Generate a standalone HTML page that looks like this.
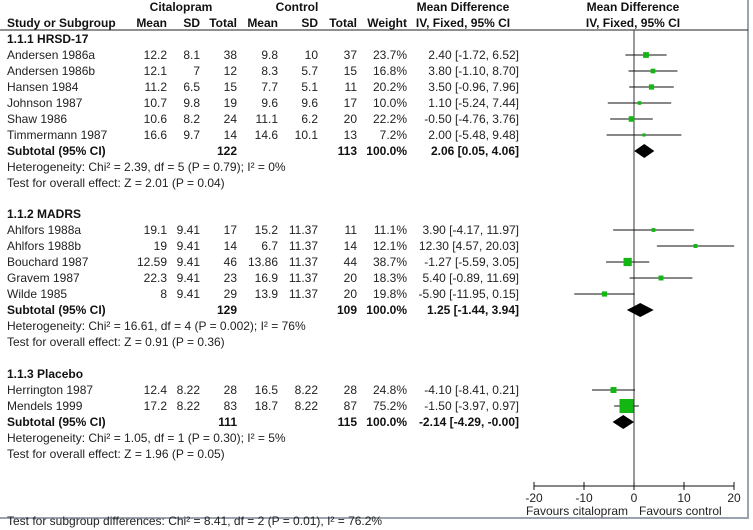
<!DOCTYPE html>
<html><head><meta charset="utf-8"><style>
html,body{margin:0;padding:0;background:#fff;}
svg{display:block;font-family:"Liberation Sans",Arial,sans-serif;font-size:12px;}
.b{font-weight:bold;}
</style></head><body>
<svg id="fp" width="753" height="530" viewBox="0 0 753 530" xmlns="http://www.w3.org/2000/svg"></svg>
<script>
// ---- data ----
const studyNames = ["Andersen 1986a","Andersen 1986b","Hansen 1984","Johnson 1987","Shaw 1986","Timmermann 1987",
 "Ahlfors 1988a","Ahlfors 1988b","Bouchard 1987","Gravem 1987","Wilde 1985","Herrington 1987","Mendels 1999"];
const studyGroup = [0,0,0,0,0,0,1,1,1,1,1,2,2];
const citMean = ["12.2","12.1","11.2","10.7","10.6","16.6","19.1","19","12.59","22.3","8","12.4","17.2"];
const citSD = ["8.1","7","6.5","9.8","8.2","9.7","9.41","9.41","9.41","9.41","9.41","8.22","8.22"];
const citN = ["38","12","15","19","24","14","17","14","46","23","29","28","83"];
const ctlMean = ["9.8","8.3","7.7","9.6","11.1","14.6","15.2","6.7","13.86","16.9","13.9","16.5","18.7"];
const ctlSD = ["10","5.7","5.1","9.6","6.2","10.1","11.37","11.37","11.37","11.37","11.37","8.22","8.22"];
const ctlN = ["37","15","11","17","20","13","11","14","44","20","20","28","87"];
const weights = [23.7,16.8,20.2,10.0,22.2,7.2,11.1,12.1,38.7,18.3,19.8,24.8,75.2];
const md = [2.40,3.80,3.50,1.10,-0.50,2.00,3.90,12.30,-1.27,5.40,-5.90,-4.10,-1.50];
const lo = [-1.72,-1.10,-0.96,-5.24,-4.76,-5.48,-4.17,4.57,-5.59,-0.89,-11.95,-8.41,-3.97];
const hi = [6.52,8.70,7.96,7.44,3.76,9.48,11.97,20.03,3.05,11.69,0.15,0.21,0.97];
const groupTitles = ["1.1.1 HRSD-17","1.1.2 MADRS","1.1.3 Placebo"];
const subCitN = ["122","129","111"];
const subCtlN = ["113","109","115"];
const subMD = [2.06,1.25,-2.14];
const subLo = [0.05,-1.44,-4.29];
const subHi = [4.06,3.94,-0.00];
const subCIText = ["2.06 [0.05, 4.06]","1.25 [-1.44, 3.94]","-2.14 [-4.29, -0.00]"];
const hetText = ["Heterogeneity: Chi² = 2.39, df = 5 (P = 0.79); I² = 0%","Heterogeneity: Chi² = 16.61, df = 4 (P = 0.002); I² = 76%","Heterogeneity: Chi² = 1.05, df = 1 (P = 0.30); I² = 5%"];
const effText = ["Test for overall effect: Z = 2.01 (P = 0.04)","Test for overall effect: Z = 0.91 (P = 0.36)","Test for overall effect: Z = 1.96 (P = 0.05)"];
const tickVals = [-20,-10,0,10,20];
const tickLabels = ["-20","-10","0","10","20"];

// ---- layout ----
const svg = document.getElementById('fp');
const NS = "http://www.w3.org/2000/svg";
const xs = v => 634 + v*5;
function el(tag, attrs, txt){
  const e = document.createElementNS(NS, tag);
  for (const k in attrs) e.setAttribute(k, attrs[k]);
  if (txt !== undefined) e.textContent = txt;
  svg.appendChild(e); return e;
}
function txt(x, y, s, anchor, bold, fill){
  const t = el('text', {x:x, y:y+4, 'text-anchor':anchor||'start', fill:fill||'#111'}, s);
  if (bold) t.setAttribute('font-weight','bold');
  return t;
}
// frame
let f = el('polyline',{points:"0,518 748,518 748,0",fill:"none",stroke:"#9aa3b0","stroke-width":2});


// headers
const H = [["Citalopram",181,7,'middle'],["Control",297,7,'middle'],["Mean Difference",463,7,'middle'],["Mean Difference",633,7,'middle'],
 ["Study or Subgroup",7,23,'start'],["Mean",167,23,'end'],["SD",200,23,'end'],["Total",237,23,'end'],["Mean",278,23,'end'],["SD",318,23,'end'],["Total",357,23,'end'],["Weight",407,23,'end'],["IV, Fixed, 95% CI",463,23,'middle'],["IV, Fixed, 95% CI",633,23,'middle']];
H.forEach(h=>{ const t=txt(h[1],h[2],h[0],h[3],true);
  
   });
let hl = el('line',{x1:0,y1:30,x2:748,y2:30,stroke:"#222","stroke-width":1});


// zero line
let zl = el('line',{x1:xs(0),y1:30,x2:xs(0),y2:486,stroke:"#333","stroke-width":1});



const groupTop = [39,214,374];
for (let g=0; g<3; g++){
  let y = groupTop[g];
  const gt = txt(7,y,groupTitles[g],'start',true);
  
  
  y += 16;
  for (let i=0;i<studyNames.length;i++){
    if (studyGroup[i]!==g) continue;
    const vals=[[studyNames[i],7,'start'],[citMean[i],167,'end'],[citSD[i],200,'end'],[citN[i],237,'end'],[ctlMean[i],278,'end'],[ctlSD[i],318,'end'],[ctlN[i],357,'end'],[weights[i].toFixed(1)+"%",407,'end'],[md[i].toFixed(2)+" ["+lo[i].toFixed(2)+", "+hi[i].toFixed(2)+"]",519,'end']];
    vals.forEach(v=>{ const t=txt(v[1],y,v[0],v[2],false,'#222');
      
       });
    const ci = el('line',{x1:xs(lo[i]),y1:y,x2:xs(hi[i]),y2:y,stroke:"#111","stroke-width":1});
    
    
    const s = 2 + weights[i]*0.16;
    const sq = el('rect',{x:xs(md[i])-s/2,y:y-s/2,width:s,height:s,fill:"#13b613"});
    
    
    y += 16;
  }
  const sv=[["Subtotal (95% CI)",7,'start'],[subCitN[g],237,'end'],[subCtlN[g],357,'end'],["100.0%",407,'end'],[subCIText[g],519,'end']];
  sv.forEach(v=>{ const t=txt(v[1],y,v[0],v[2],true);
    
     });
  const d = el('polygon',{points:`${xs(subLo[g])},${y} ${xs(subMD[g])},${y-7} ${xs(subHi[g])},${y} ${xs(subMD[g])},${y+7}`,fill:"#000"});
  
  
  const ht = txt(7,y+16,hetText[g],'start',false,'#222');
  
  
  const et = txt(7,y+32,effText[g],'start',false,'#222');
  
  
}
// axis
let ax = el('line',{x1:xs(-20),y1:486,x2:xs(20),y2:486,stroke:"#111","stroke-width":1});


tickVals.forEach((v,k)=>{
  const tk = el('line',{x1:xs(v),y1:482,x2:xs(v),y2:490,stroke:"#111","stroke-width":1});
  
  
  const tl = txt(xs(v),498,tickLabels[k],'middle',false,'#222');
  
  
});
let fa = txt(628,511,"Favours citalopram",'end',false,'#222');


let fb = txt(639,511,"Favours control",'start',false,'#222');


let sg = txt(7,521,"Test for subgroup differences: Chi² = 8.41, df = 2 (P = 0.01), I² = 76.2%",'start',false,'#222');


</script>
</body></html>
